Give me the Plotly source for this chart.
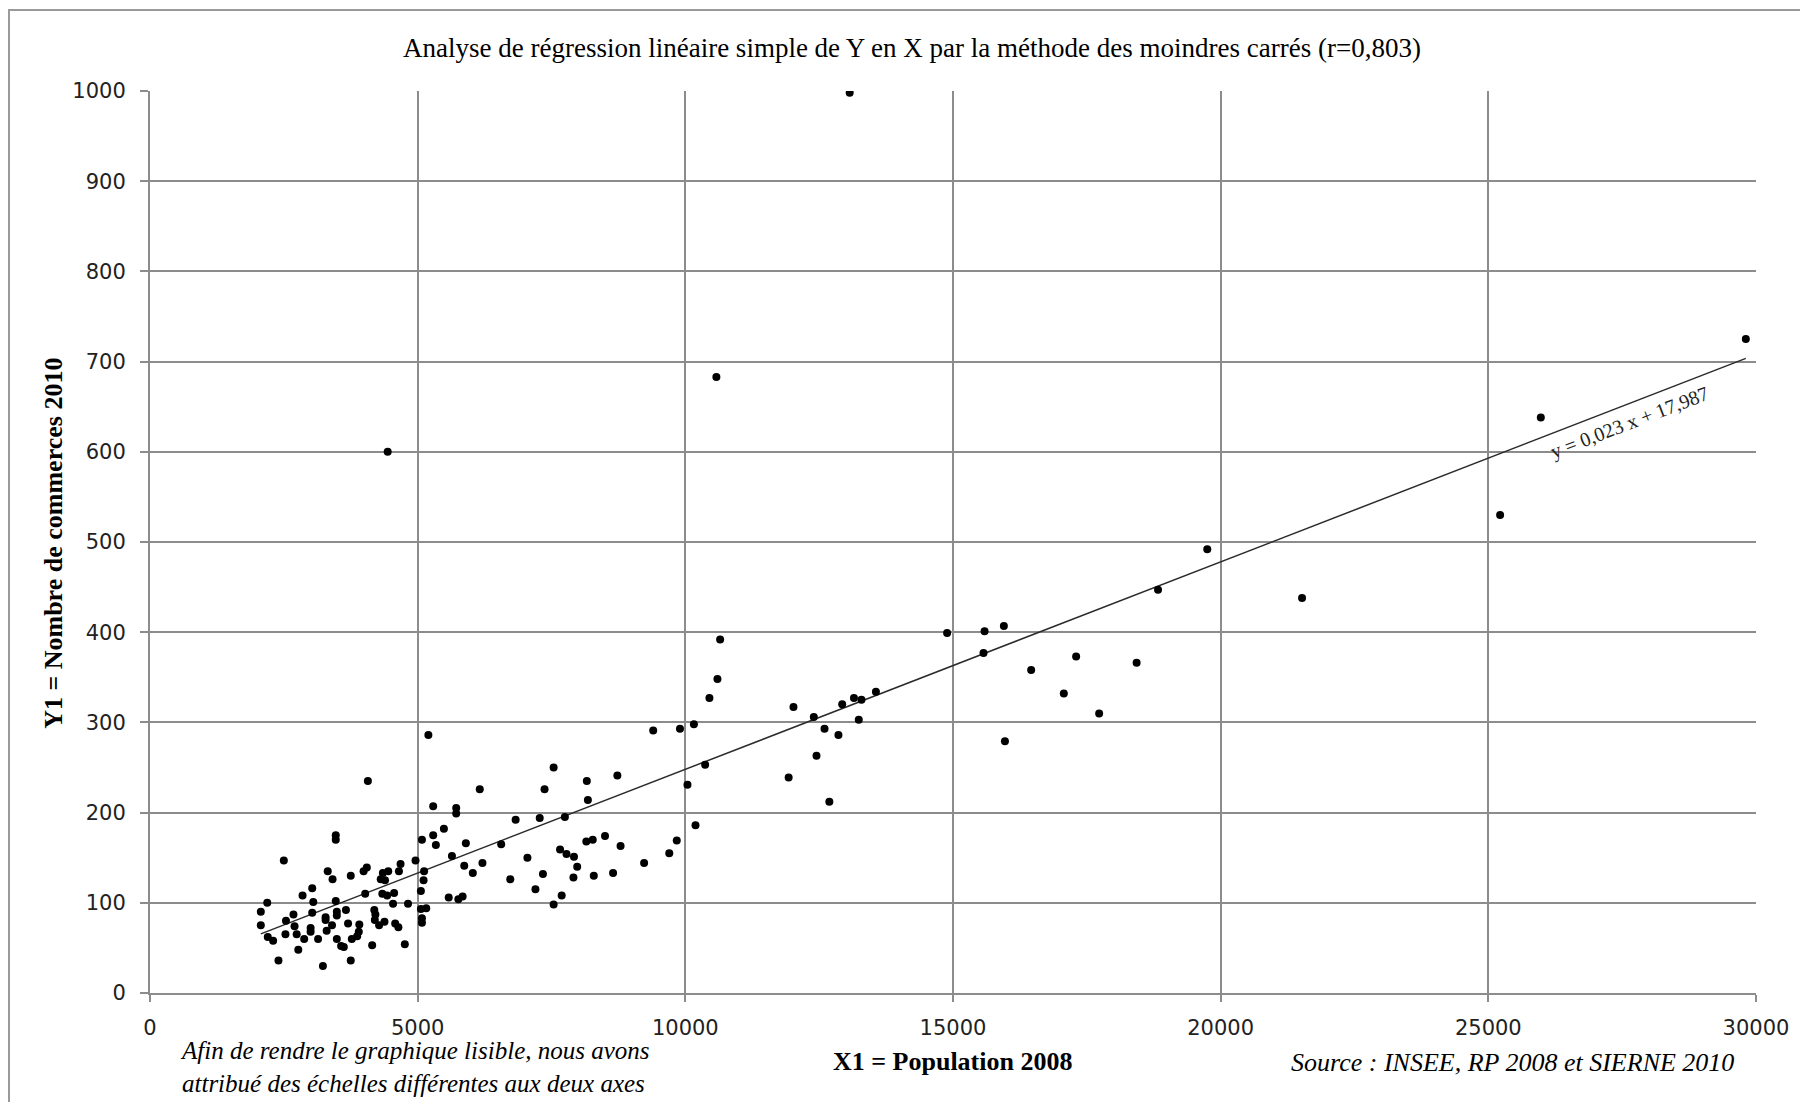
import plotly.graph_objects as go

# X1 = Population 2008, Y1 = Nombre de commerces 2010
population_2008 = [
    5200, 4070, 7540, 8730, 7370, 8160, 6160, 8180, 5290, 5720, 5720, 7750, 6830, 7280, 5490,
    3470, 3470, 5290, 5080, 5340, 5900, 6560, 8150, 8270, 8500, 8790, 7660, 7780, 7920, 7050,
    5640, 7980, 5870, 6210, 6030, 7340, 7910, 8290, 8650, 6730, 7200, 7690, 7540, 5580, 5760,
    5840, 2500, 4960, 4680, 5120, 5110, 5060, 5060, 5160, 5080, 5080, 3320, 3410, 3750, 3990,
    4050, 4350, 4450, 4650, 4310, 4390, 4020, 4340, 4430, 4560, 4540, 4820, 3030, 2850, 2190,
    2070, 2070, 3050, 3470, 2680, 2540, 2700, 2530, 2740, 2200, 2300, 2880, 3030, 3280, 3280,
    3490, 3490, 3660, 3000, 3000, 3140, 3300, 3400, 3700, 3910, 3900, 3870, 3770, 3490, 3570,
    3620, 2770, 2400, 3230, 3750, 4150, 4760, 4190, 4210, 4200, 4280, 4380, 4580, 4640,
    10650, 10600, 10450, 10160, 9900, 9400, 10370, 10040, 10190, 9840, 9700, 9230,
    12020, 12400, 12600, 12860, 12930, 13150, 13290, 13560, 13240, 12450, 11930, 12690,
    14890, 15590, 15570, 15950, 16460, 17300, 17070, 15970, 17730,
    18430, 18830, 19750, 21520, 29810, 25980, 25220, 13070, 4440, 10580,
]
commerces_2010 = [
    286, 235, 250, 241, 226, 235, 226, 214, 207, 205, 199, 195, 192, 194, 182,
    175, 170, 175, 170, 164, 166, 165, 168, 170, 174, 163, 159, 154, 151, 150,
    152, 140, 141, 144, 133, 132, 128, 130, 133, 126, 115, 108, 98, 106, 104,
    107, 147, 147, 143, 135, 125, 113, 93, 94, 83, 78, 135, 126, 130, 135,
    139, 133, 135, 135, 126, 125, 110, 110, 108, 111, 99, 99, 116, 108, 100,
    90, 75, 101, 102, 87, 80, 74, 65, 65, 62, 58, 60, 89, 84, 81,
    90, 86, 92, 72, 68, 60, 69, 75, 77, 76, 68, 63, 60, 60, 52,
    51, 48, 36, 30, 36, 53, 54, 92, 87, 81, 75, 79, 77, 73,
    392, 348, 327, 298, 293, 291, 253, 231, 186, 169, 155, 144,
    317, 306, 293, 286, 320, 327, 325, 334, 303, 263, 239, 212,
    399, 401, 377, 407, 358, 373, 332, 279, 310,
    366, 447, 492, 438, 725, 638, 530, 998, 600, 683,
]

# droite de régression affichée : y = 0,023 x + 17,987
pente = 0.023
ordonnee = 17.987
x_ligne = [min(population_2008), max(population_2008)]
y_ligne = [pente * v + ordonnee for v in x_ligne]

x_ticks = [0, 5000, 10000, 15000, 20000, 25000, 30000]
y_ticks = [0, 100, 200, 300, 400, 500, 600, 700, 800, 900, 1000]

SERIF = "Liberation Serif, Times New Roman, serif"
GRID = "#8c8c8c"

fig = go.Figure()
fig.add_trace(go.Scatter(x=x_ligne, y=y_ligne, mode="lines",
                         line=dict(color="#2b2b2b", width=1.5), hoverinfo="skip"))
fig.add_trace(go.Scatter(x=population_2008, y=commerces_2010, mode="markers",
                         marker=dict(color="black", size=8)))

fig.update_xaxes(range=[0, 30000], tickvals=x_ticks, ticktext=[str(t) for t in x_ticks],
                 showgrid=True, gridcolor=GRID, gridwidth=1.5, automargin=False,
                 showline=True, linecolor=GRID, linewidth=2, zeroline=False,
                 ticks="outside", ticklen=7, tickcolor=GRID, tickwidth=1.5,
                 ticklabelstandoff=8,
                 tickfont=dict(family="DejaVu Sans", size=21, color="#222"))
fig.update_yaxes(range=[0, 1000], tickvals=y_ticks, ticktext=[str(t) for t in y_ticks],
                 showgrid=True, gridcolor=GRID, gridwidth=1.5, automargin=False,
                 showline=True, linecolor=GRID, linewidth=2, zeroline=False,
                 ticks="outside", ticklen=8, tickcolor=GRID, tickwidth=1.5,
                 ticklabelstandoff=10,
                 tickfont=dict(family="DejaVu Sans", size=21, color="#222"))

annotations = [
    dict(text="Analyse de régression linéaire simple de Y en X par la méthode des moindres carrés (r=0,803)",
         x=0.4745, y=1.0477, font=dict(family=SERIF, size=27, color="black")),
    dict(text="<b>Y1 = Nombre de commerces 2010</b>", x=-0.0598, y=0.499, textangle=-90,
         font=dict(family=SERIF, size=26, color="black")),
    dict(text="<b>X1 = Population 2008</b>", x=0.4994, y=-0.0754,
         font=dict(family=SERIF, size=26, color="black")),
    dict(text="<i>Afin de rendre le graphique lisible, nous avons<br>attribué des échelles différentes aux deux axes</i>",
         x=0.0174, y=-0.0825, xanchor="left", align="left",
         font=dict(family=SERIF, size=25, color="black")),
    dict(text="<i>Source : INSEE, RP 2008 et SIERNE 2010</i>", x=0.7092, y=-0.0776, xanchor="left",
         font=dict(family=SERIF, size=26, color="black")),
]
for a in annotations:
    a.setdefault("xanchor", "center")
    a.update(xref="paper", yref="paper", yanchor="middle", showarrow=False)

fig.update_layout(
    width=1800, height=1102,
    margin=dict(l=150, r=44, t=91, b=109),
    paper_bgcolor="white", plot_bgcolor="white",
    showlegend=False,
    annotations=annotations,
)
fig.add_annotation(text="y = 0,023 x + 17,987", x=27650, y=632, xref="x", yref="y",
                   textangle=-21, showarrow=False,
                   font=dict(family=SERIF, size=20, color="#222"))
# cadre du graphique (bords haut et gauche visibles)
fig.add_shape(type="rect", xref="paper", yref="paper", x0=-0.0878, x1=1.05, y0=-0.125, y1=1.0898,
              line=dict(color="#9a9a9a", width=2), layer="below")

# la page n'a pas de marge : la figure occupe toute la fenêtre
fig.write_html("out.html", config={"displayModeBar": False},
               post_script="document.body.style.margin='0';")
